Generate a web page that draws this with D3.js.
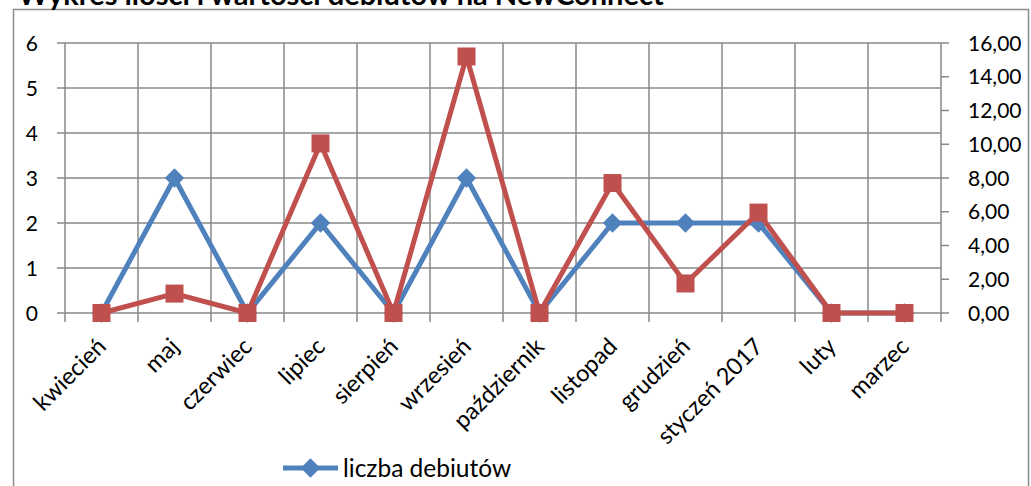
<!DOCTYPE html>
<html>
<head>
<meta charset="utf-8">
<script src="https://cdn.jsdelivr.net/npm/d3@7"></script>
<style>
  body { margin: 0; background: #fff; }
  #plot-canvas { width: 1031px; height: 486px; overflow: hidden; }
  text { font-family: Lato, "Open Sans", sans-serif; fill: #000; }
</style>
</head>
<body>
<div id="plot-canvas"></div>
<script>
const months = ["kwiecień", "maj", "czerwiec", "lipiec", "sierpień", "wrzesień",
    "październik", "listopad", "grudzień", "styczeń 2017", "luty", "marzec"];
const debutCount = [0, 3, 0, 2, 0, 3, 0, 2, 2, 2, 0, 0];
const debutValue = [0, 1.15, 0, 10.05, 0, 15.2, 0, 7.7, 1.75, 5.95, 0, 0];
const leftTicks = [0, 1, 2, 3, 4, 5, 6];
const rightTicks = [0, 2, 4, 6, 8, 10, 12, 14, 16];

const margin = {top: 43, right: 90, bottom: 173, left: 65},
    width = 1031 - margin.left - margin.right,
    height = 486 - margin.top - margin.bottom;
const blue = "#4f81bd", red = "#c0504d", grid = "#888888";

const root = d3.select("#plot-canvas").append("svg")
    .attr("width", 1031)
    .attr("height", 486);

// chart area frame and title (title sits partly above the page, as in the original)
root.append("rect")
    .attr("x", 13.5).attr("y", 9.5)
    .attr("width", 1015).attr("height", 520)
    .attr("fill", "none").attr("stroke", "#8c8c8c").attr("stroke-width", 1.5);

root.append("text")
    .attr("x", 18).attr("y", 5)
    .style("font-size", "29px").style("font-weight", "bold")
    .text("Wykres ilości i wartości debiutów na NewConnect");

const svg = root.append("g").attr("transform", "translate(" + margin.left + "," + margin.top + ")");

const x = d3.scaleBand().domain(months).range([0, width]);
const yLeft = d3.scaleLinear().domain([0, 6]).range([height, 0]);
const yRight = d3.scaleLinear().domain([0, 16]).range([height, 0]);
const cx = d => x(d) + x.bandwidth() / 2;

// horizontal gridlines
svg.append("g").selectAll("line")
    .data(leftTicks).enter().append("line")
    .attr("x1", -8).attr("x2", width)
    .attr("y1", d => yLeft(d)).attr("y2", d => yLeft(d))
    .attr("stroke", grid).attr("stroke-width", 1.5);

// vertical gridlines at category boundaries, running past the axis as ticks
svg.append("g").selectAll("line")
    .data(d3.range(months.length + 1)).enter().append("line")
    .attr("x1", i => i * x.bandwidth()).attr("x2", i => i * x.bandwidth())
    .attr("y1", 0).attr("y2", height + 9)
    .attr("stroke", grid).attr("stroke-width", 1.5);

// right axis ticks
svg.append("g").selectAll("line")
    .data(rightTicks).enter().append("line")
    .attr("x1", width).attr("x2", width + 8)
    .attr("y1", d => yRight(d)).attr("y2", d => yRight(d))
    .attr("stroke", grid).attr("stroke-width", 1.5);

// left axis labels
svg.append("g").selectAll("text")
    .data(leftTicks).enter().append("text")
    .attr("x", -27).attr("y", d => yLeft(d)).attr("dy", "0.36em")
    .style("text-anchor", "end").style("font-size", "21px")
    .text(d => d);

// right axis labels
const fmt = d => d3.format(".2f")(d).replace(".", ",");
svg.append("g").selectAll("text")
    .data(rightTicks).enter().append("text")
    .attr("x", width + 27).attr("y", d => yRight(d)).attr("dy", "0.36em")
    .style("font-size", "21px")
    .text(fmt);

// category labels, rotated
svg.append("g").selectAll("text")
    .data(months).enter().append("text")
    .attr("transform", d => "translate(" + (cx(d) + 6) + "," + (height + 35) + ") rotate(-45)")
    .style("text-anchor", "end").style("font-size", "23.5px")
    .text(d => d);

// series: count (left axis)
const countLine = d3.line().x((d, i) => cx(months[i])).y(d => yLeft(d));
svg.append("path").datum(debutCount)
    .attr("d", countLine)
    .attr("fill", "none").attr("stroke", blue).attr("stroke-width", 5)
    .attr("stroke-linejoin", "round");
const diamond = d3.symbol().type(d3.symbolDiamond2).size(240);
svg.append("g").selectAll("path")
    .data(debutCount).enter().append("path")
    .attr("d", diamond)
    .attr("transform", (d, i) => "translate(" + cx(months[i]) + "," + yLeft(d) + ")")
    .attr("fill", blue);

// series: value (right axis)
const valueLine = d3.line().x((d, i) => cx(months[i])).y(d => yRight(d));
svg.append("path").datum(debutValue)
    .attr("d", valueLine)
    .attr("fill", "none").attr("stroke", red).attr("stroke-width", 5)
    .attr("stroke-linejoin", "round");
svg.append("g").selectAll("rect")
    .data(debutValue).enter().append("rect")
    .attr("x", (d, i) => cx(months[i]) - 9)
    .attr("y", d => yRight(d) - 9)
    .attr("width", 18).attr("height", 18)
    .attr("fill", red);

// legend
const legend = root.append("g").attr("transform", "translate(283,468)");
legend.append("line").attr("x1", 0).attr("x2", 55).attr("y1", 0).attr("y2", 0)
    .attr("stroke", blue).attr("stroke-width", 5);
legend.append("path").attr("d", diamond)
    .attr("transform", "translate(27.5,0)").attr("fill", blue);
legend.append("text").attr("x", 60).attr("y", 0).attr("dy", "0.36em")
    .style("font-size", "24.5px")
    .text("liczba debiutów");
</script>
</body>
</html>
